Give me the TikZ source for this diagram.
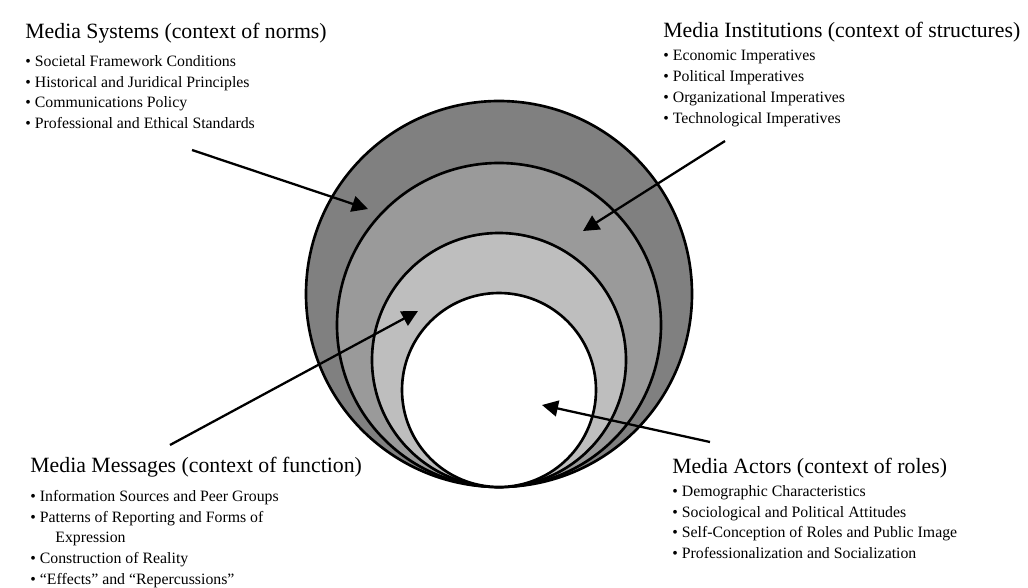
\documentclass[tikz,border=0pt]{standalone}
\usepackage{fontspec}
\setmainfont{Liberation Serif}
\usetikzlibrary{positioning, arrows.meta}

\definecolor{ringsys}{RGB}{128,128,128}
\definecolor{ringinst}{RGB}{154,154,154}
\definecolor{ringmsg}{RGB}{190,190,190}

\begin{document}
\begin{tikzpicture}[
    x=0.02cm, y=0.02cm,
    ring/.style={draw=black, line width=1.5pt},
    title/.style={anchor=base west, inner sep=0pt, font=\fontsize{12.4}{15}\selectfont},
    list/.style={anchor=north west, inner sep=0pt, align=left, font=\fontsize{9}{11.8}\selectfont},
    arrow/.style={-{Triangle[length=3.2mm, width=3.2mm]}, line width=1.3pt}
]
  \useasboundingbox (0,0) rectangle (1028,-588);

  % nested circles, all touching at the bottom
  \filldraw[ring, fill=ringsys]  (499,-294) circle[radius=193];
  \filldraw[ring, fill=ringinst] (499,-325) circle[radius=162];
  \filldraw[ring, fill=ringmsg]  (499,-360) circle[radius=127];
  \filldraw[ring, fill=white]    (499,-390) circle[radius=97];

  % top left: media systems
  \node[title] (sysT) at (25,-39) {Media Systems (context of norms)};
  \node[list] (sysL) at (25,-55) {\textbullet\ Societal Framework Conditions\\
    \textbullet\ Historical and Juridical Principles\\
    \textbullet\ Communications Policy\\
    \textbullet\ Professional and Ethical Standards};

  % top right: media institutions
  \node[title] (instT) at (663,-38) {Media Institutions (context of structures)};
  \node[list] (instL) at (663,-50) {\textbullet\ Economic Imperatives\\
    \textbullet\ Political Imperatives\\
    \textbullet\ Organizational Imperatives\\
    \textbullet\ Technological Imperatives};

  % bottom left: media messages
  \node[title] (msgT) at (30,-472) {Media Messages (context of function)};
  \node[list] (msgL) at (30,-490) {\textbullet\ Information Sources and Peer Groups\\
    \textbullet\ Patterns of Reporting and Forms of\\
    \hspace*{5mm}Expression\\
    \textbullet\ Construction of Reality\\
    \textbullet\ “Effects” and “Repercussions”};

  % bottom right: media actors
  \node[title] (actT) at (672,-473) {Media Actors (context of roles)};
  \node[list] (actL) at (672,-485) {\textbullet\ Demographic Characteristics\\
    \textbullet\ Sociological and Political Attitudes\\
    \textbullet\ Self-Conception of Roles and Public Image\\
    \textbullet\ Professionalization and Socialization};

  % pointers into the rings
  \coordinate (sysTail)  at (192,-150);
  \coordinate (sysTip)   at (368,-209);
  \coordinate (instTail) at (725,-141);
  \coordinate (instTip)  at (583,-231);
  \coordinate (msgTail)  at (170,-445);
  \coordinate (msgTip)   at (418,-311);
  \coordinate (actTail)  at (710,-442);
  \coordinate (actTip)   at (542,-405);

  \draw[arrow] (sysTail) -- (sysTip);
  \draw[arrow] (instTail) -- (instTip);
  \draw[arrow] (msgTail) -- (msgTip);
  \draw[arrow] (actTail) -- (actTip);
\end{tikzpicture}
\end{document}
